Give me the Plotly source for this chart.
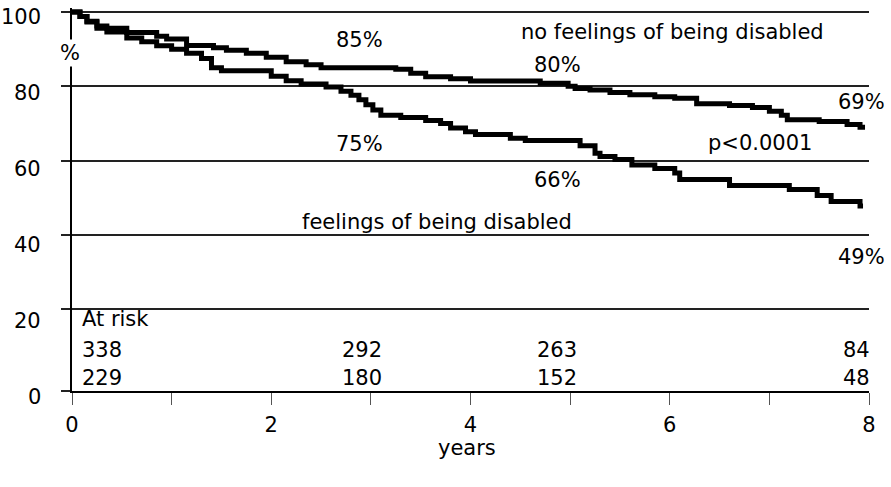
import plotly.graph_objects as go

# Kaplan-Meier estimates (years, % event-free) for the two groups
no_disabled_t = [0.00, 0.08, 0.15, 0.25, 0.35, 0.55, 0.85, 0.95, 1.15, 1.42, 1.55, 1.75,
                 1.95, 2.15, 2.35, 2.50, 3.25, 3.40, 3.55, 3.80, 4.00, 4.70, 4.98, 5.05,
                 5.20, 5.40, 5.60, 5.85, 6.05, 6.27, 6.60, 6.83, 7.00, 7.12, 7.18, 7.50,
                 7.78, 7.91, 7.96]
no_disabled_s = [100.0, 98.8, 97.5, 96.2, 95.6, 94.5, 93.5, 92.7, 91.0, 90.4, 89.7, 88.9,
                 87.8, 86.6, 85.8, 85.0, 84.6, 83.5, 82.6, 82.0, 81.4, 80.8, 80.0, 79.4,
                 79.0, 78.3, 77.7, 77.2, 76.8, 75.3, 74.8, 74.3, 73.3, 72.2, 71.0, 70.5,
                 69.7, 69.0, 69.0]

disabled_t = [0.00, 0.08, 0.15, 0.25, 0.35, 0.55, 0.70, 0.85, 1.00, 1.15, 1.30, 1.40,
              1.50, 2.00, 2.15, 2.30, 2.55, 2.70, 2.80, 2.88, 2.95, 3.02, 3.10, 3.30,
              3.55, 3.70, 3.80, 3.95, 4.05, 4.40, 4.55, 5.10, 5.25, 5.30, 5.45, 5.62,
              5.85, 6.05, 6.10, 6.60, 7.20, 7.48, 7.62, 7.91, 7.94]
disabled_s = [100.0, 98.8, 97.3, 95.6, 94.6, 93.0, 92.0, 90.9, 90.0, 88.9, 87.5, 85.0,
              84.2, 82.7, 81.5, 80.6, 79.8, 78.7, 77.6, 76.4, 75.0, 73.6, 72.2, 71.6,
              70.8, 70.0, 68.8, 67.8, 67.0, 66.0, 65.4, 64.0, 62.0, 61.1, 60.3, 58.8,
              57.9, 56.7, 54.9, 53.3, 52.2, 50.6, 49.0, 47.8, 47.8]

x_ticks = [0, 1, 2, 3, 4, 5, 6, 7, 8]
x_tick_text = ["0", "", "2", "", "4", "", "6", "", "8"]
y_grid = [-2, 20, 40, 60, 80, 100]
y_tick_text = ["100", "80", "60", "40", "20", "0"]
# label centres in paper units (they sit a little below their grid lines)
y_tick_text_pos = [0.977, 0.779, 0.580, 0.381, 0.183, -0.016]

risk_years_paper = [0.010, 0.364, 0.609, 1.004]
risk_no_disabled = ["338", "292", "263", "84"]
risk_disabled = ["229", "180", "152", "48"]

FONT = "DejaVu Sans"
FS = 21

fig = go.Figure()
for t, s in [(no_disabled_t, no_disabled_s), (disabled_t, disabled_s)]:
    fig.add_trace(go.Scatter(x=t, y=s, mode="lines",
                             line=dict(shape="hv", color="black", width=5),
                             showlegend=False, hoverinfo="skip"))

ann = []

def label(text, x, y, xanchor="center", xref="x", yref="y", bg=None):
    d = dict(text=text, x=x, y=y, xref=xref, yref=yref, xanchor=xanchor,
             yanchor="middle", showarrow=False,
             font=dict(family=FONT, size=FS, color="black"))
    if bg:
        d["bgcolor"] = bg
    ann.append(d)

# y-axis tick labels
for txt, pos in zip(y_tick_text, y_tick_text_pos):
    label(txt, -0.0364, pos, xanchor="right", xref="paper", yref="paper")

# curve annotations
label("85%", 2.89, 92.5)
label("no feelings of being disabled", 6.03, 94.6)
label("80%", 4.87, 85.8)
label("69%", 7.92, 75.9)
label("p<0.0001", 6.91, 64.8)
label("75%", 2.89, 64.5)
label("66%", 4.87, 54.8)
label("feelings of being disabled", 3.66, 43.6)
label("49%", 7.92, 34.0)
label("%", -0.0025, 0.8825, xref="paper", yref="paper", bg="white")

# numbers at risk
label("At risk", 0.010, 0.188, xanchor="left", xref="paper", yref="paper")
for i, (xr, a, b) in enumerate(zip(risk_years_paper, risk_no_disabled, risk_disabled)):
    anchor = "left" if i == 0 else ("right" if i == len(risk_years_paper) - 1 else "center")
    label(a, xr, 0.107, xanchor=anchor, xref="paper", yref="paper")
    label(b, xr, 0.033, xanchor=anchor, xref="paper", yref="paper")

label("years", 0.496, -0.150, xref="paper", yref="paper")

fig.update_layout(
    width=891, height=487,
    margin=dict(l=72, r=22, t=8, b=96),
    paper_bgcolor="white", plot_bgcolor="white",
    annotations=ann,
    font=dict(family=FONT, size=FS, color="black"),
    xaxis=dict(range=[0, 8], tickvals=x_ticks, ticktext=x_tick_text,
               ticks="outside", ticklen=12, tickwidth=1, tickcolor="#555",
               ticklabelstandoff=2,
               showline=True, linecolor="black", linewidth=2,
               showgrid=False, zeroline=False,
               tickfont=dict(family=FONT, size=FS, color="black")),
    yaxis=dict(range=[-2, 101.07], tickvals=y_grid, showticklabels=False,
               ticks="outside", ticklen=9, tickwidth=1.5, tickcolor="#222",
               showgrid=True, gridcolor="#222", gridwidth=1.5,
               showline=True, linecolor="black", linewidth=2,
               zeroline=False),
)

fig.write_html("out.html")
